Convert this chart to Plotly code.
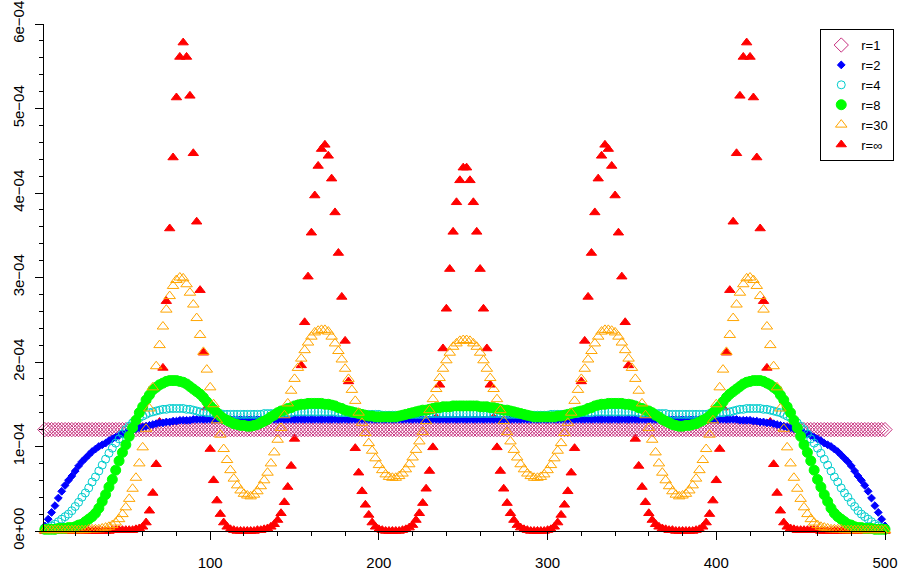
import plotly.graph_objects as go

# positions along the sequence (every second site)
x_pos = list(range(2, 501, 2))

# values in units of 1e-6
r1 = [
    120,120,120,120,120,120,120,120,120,120, 120,120,120,120,120,120,120,120,120,120,
    120,120,120,120,120,120,120,120,120,120, 120,120,120,120,120,120,120,120,120,120,
    120,120,120,120,120,120,120,120,120,120, 120,120,120,120,120,120,120,120,120,120,
    120,120,120,120,120,120,120,120,120,120, 120,120,120,120,120,120,120,120,120,120,
    120,120,120,120,120,120,120,120,120,120, 120,120,120,120,120,120,120,120,120,120,
    120,120,120,120,120,120,120,120,120,120, 120,120,120,120,120,120,120,120,120,120,
    120,120,120,120,120,120,120,120,120,120, 120,120,120,120,120,120,120,120,120,120,
    120,120,120,120,120,120,120,120,120,120, 120,120,120,120,120,120,120,120,120,120,
    120,120,120,120,120,120,120,120,120,120, 120,120,120,120,120,120,120,120,120,120,
    120,120,120,120,120,120,120,120,120,120, 120,120,120,120,120,120,120,120,120,120,
    120,120,120,120,120,120,120,120,120,120, 120,120,120,120,120,120,120,120,120,120,
    120,120,120,120,120,120,120,120,120,120, 120,120,120,120,120,120,120,120,120,120,
    120,120,120,120,120,120,120,120,120,120,
]

r2 = [
    6,14,22,30,39,47,54,60,65,71,
    77,82,86,90,94,97,100,102,104,107,
    109,111,113,115,116,118,119,121,122,123,
    124,125,126,127,128,128,129,129,130,130,
    131,131,131,131,132,132,132,132,132,132,
    132,132,132,132,132,132,132,132,132,132,
    132,132,132,132,132,132,132,132,132,132,
    132,132,132,132,132,132,132,132,132,132,
    132,132,132,132,132,132,132,132,132,132,
    132,132,132,132,132,132,132,132,132,132,
    132,132,132,132,132,132,132,132,132,132,
    132,132,132,132,132,132,132,132,132,132,
    132,132,132,132,132,
    132,132,132,132,132,
    132,132,132,132,132,132,132,132,132,132,
    132,132,132,132,132,132,132,132,132,132,
    132,132,132,132,132,132,132,132,132,132,
    132,132,132,132,132,132,132,132,132,132,
    132,132,132,132,132,132,132,132,132,132,
    132,132,132,132,132,132,132,132,132,132,
    132,132,132,132,132,132,132,132,132,132,
    132,132,132,132,132,132,131,131,131,131,
    130,130,129,129,128,128,127,126,125,124,
    123,122,121,119,118,116,115,113,111,109,
    107,104,102,100,97,94,90,86,82,77,
    71,65,60,54,47,39,30,22,14,6,
]

r4 = [
    3,4,6,8,11,14,17,20,24,29,
    34,40,45,51,58,64,71,78,85,92,
    98,104,109,115,120,124,128,131,134,136,
    138,140,141,142,143,144,144,145,145,145,
    145,145,144,144,143,142,141,141,140,140,
    139,139,139,138,138,138,138,138,138,138,
    138,138,138,138,138,139,139,139,139,140,
    140,140,140,140,141,141,141,141,141,141,
    141,141,141,141,141,141,141,140,140,140,
    140,139,139,139,138,138,138,138,138,138,
    137,137,137,137,137,137,137,138,138,138,
    138,138,138,138,139,139,139,139,139,139,
    139,139,139,139,139,
    139,139,139,139,139,
    139,139,139,139,139,139,138,138,138,138,
    138,138,138,137,137,137,137,137,137,137,
    138,138,138,138,138,138,139,139,139,140,
    140,140,140,141,141,141,141,141,141,141,
    141,141,141,141,141,141,140,140,140,140,
    140,139,139,139,139,138,138,138,138,138,
    138,138,138,138,138,138,138,139,139,139,
    140,140,141,141,142,143,144,144,145,145,
    145,145,145,144,144,143,142,141,140,138,
    136,134,131,128,124,120,115,109,104,98,
    92,85,78,71,64,58,51,45,40,34,
    29,24,20,17,14,11,8,6,4,3,
]

r8 = [
    2,2,2,2,3,3,3,4,4,5,
    7,8,11,14,17,21,27,35,43,52,
    61,72,83,93,102,112,122,131,140,147,
    155,161,167,170,173,175,177,178,178,178,
    177,176,174,171,168,165,162,158,153,148,
    144,140,136,133,131,129,127,126,125,125,
    124,124,125,126,128,130,132,135,137,140,
    142,143,145,146,148,149,150,150,151,151,
    151,151,151,150,150,149,148,146,145,143,
    142,141,140,139,138,137,136,136,135,135,
    135,135,135,135,135,136,137,138,139,140,
    141,142,143,143,144,145,146,146,147,147,
    147,148,148,148,148,
    148,148,148,148,147,
    147,147,146,146,145,144,143,143,142,141,
    140,139,138,137,136,135,135,135,135,135,
    135,135,136,136,137,138,139,140,141,142,
    143,145,146,148,149,150,150,151,151,151,
    151,151,150,150,149,148,146,145,143,142,
    140,137,135,132,130,128,126,125,124,124,
    125,125,126,127,129,131,133,136,140,144,
    148,153,158,162,165,168,171,174,176,177,
    178,178,178,177,175,173,170,167,161,155,
    147,140,131,122,112,102,93,83,72,61,
    52,43,35,27,21,17,14,11,8,7,
    5,4,4,3,3,3,2,2,2,2,
]

r30 = [
    1,1,1,1,1,1,1,1,1,1,
    1,1,1,2,2,2,2,3,4,5,
    7,10,14,20,28,38,50,63,80,99,
    121,145,170,195,220,242,262,278,290,297,
    300,299,292,282,268,252,232,212,191,170,
    150,131,114,97,84,72,62,54,48,44,
    42,41,43,47,53,60,69,80,93,108,
    122,137,151,166,180,193,204,214,223,230,
    235,237,238,238,236,230,222,213,203,192,
    180,167,154,140,128,116,104,95,86,78,
    72,67,64,63,63,65,68,73,79,87,
    96,106,117,130,143,156,168,181,192,202,
    211,218,222,225,226,
    226,225,222,218,211,
    202,192,181,168,156,143,130,117,106,96,
    87,79,73,68,65,63,63,64,67,72,
    78,86,95,104,116,128,140,154,167,180,
    192,203,213,222,230,236,238,238,237,235,
    230,223,214,204,193,180,166,151,137,122,
    108,93,80,69,60,53,47,43,41,42,
    44,48,54,62,72,84,97,114,131,150,
    170,191,212,232,252,268,282,292,299,300,
    297,290,278,262,242,220,195,170,145,121,
    99,80,63,50,38,28,20,14,10,7,
    5,4,3,2,2,2,2,1,1,1,
    1,1,1,1,1,1,1,1,1,1,
]

r_inf = [
    0,0,0,0,0,0,0,0,0,0,
    0,0,0,0,0,0,0,0,0,0,
    1,1,1,1,1,1,1,2,3,5,
    10,24,45,79,129,193,272,358,442,513,
    561,578,561,515,447,366,285,211,146,97,
    60,36,20,10,5,2,1,0,0,0,
    0,0,0,1,1,2,3,5,8,13,
    21,34,52,77,109,150,196,247,301,353,
    397,432,452,457,444,417,377,329,277,225,
    177,135,98,69,47,31,19,10,5,2,
    1,0,0,0,0,0,1,2,4,7,
    13,21,33,50,71,99,134,173,216,263,
    310,354,389,415,430,
    430,415,389,354,310,
    263,216,173,134,99,71,50,33,21,13,
    7,4,2,1,0,0,0,0,0,1,
    2,5,10,19,31,47,69,98,135,177,
    225,277,329,377,417,444,457,452,432,397,
    353,301,247,196,150,109,77,52,34,21,
    13,8,5,3,2,1,1,0,0,0,
    0,0,0,1,2,5,10,20,36,60,
    97,146,211,285,366,447,515,561,578,561,
    513,442,358,272,193,129,79,45,24,10,
    5,3,2,1,1,1,1,1,1,1,
    0,0,0,0,0,0,0,0,0,0,
    0,0,0,0,0,0,0,0,0,0,
]

UNIT = 1e-6

y_tickvals = [0, 1e-4, 2e-4, 3e-4, 4e-4, 5e-4, 6e-4]
y_ticktext = ["0e+00", "1e\u221204", "2e\u221204", "3e\u221204", "4e\u221204", "5e\u221204", "6e\u221204"]
x_tickvals = [100, 200, 300, 400, 500]
x_ticktext = ["100", "200", "300", "400", "500"]

# (name, values, symbol, color, size, legend rank) in drawing order
series = [
    ("r=\u221e", r_inf, "triangle-up", "#FF0000", 9, 6),
    ("r=1", r1, "diamond-open", "#C8307F", 11, 1),
    ("r=2", r2, "diamond", "#0000FF", 6, 2),
    ("r=4", r4, "circle-open", "#00CDCD", 8, 3),
    ("r=8", r8, "circle", "#00FF00", 10, 4),
    ("r=30", r30, "triangle-up-open", "#FFA500", 10, 5),
]

fig = go.Figure()
for name, vals, sym, col, size, rank in series:
    fig.add_trace(go.Scatter(
        x=x_pos,
        y=[v * UNIT for v in vals],
        mode="markers",
        name=name,
        legendrank=rank,
        cliponaxis=False,
        marker=dict(symbol=sym, color=col, size=size,
                    line=dict(width=1, color=col)),
    ))

font = "Liberation Sans, Arial, sans-serif"
fig.update_layout(
    width=900, height=577,
    margin=dict(l=44, r=15, t=24, b=46, autoexpand=False),
    paper_bgcolor="white", plot_bgcolor="white",
    font=dict(family=font, size=15, color="black"),
    showlegend=True,
    legend=dict(x=1.011, y=0.99, xanchor="right", yanchor="top",
                bgcolor="white", bordercolor="black", borderwidth=1,
                font=dict(size=13), itemwidth=30, tracegroupgap=0),
    xaxis=dict(range=[1.5, 500], showgrid=False, zeroline=False, automargin=False,
               showline=True, linecolor="black", linewidth=1,
               tickmode="array", tickvals=x_tickvals, ticktext=x_ticktext,
               ticks="outside", ticklen=8, tickcolor="black", tickwidth=1,
               ticklabelstandoff=10, ticklabeloverflow="allow",
               minor=dict(dtick=20, tick0=0, ticks="outside", ticklen=4,
                          tickcolor="black", tickwidth=1, showgrid=False)),
    yaxis=dict(range=[0, 6e-4], showgrid=False, zeroline=False, automargin=False,
               showline=True, linecolor="black", linewidth=1,
               tickmode="array", tickvals=y_tickvals, ticktext=y_ticktext,
               tickangle=-90,
               ticks="outside", ticklen=8, tickcolor="black", tickwidth=1,
               ticklabelstandoff=5, ticklabeloverflow="allow",
               minor=dict(dtick=2e-5, tick0=0, ticks="outside", ticklen=4,
                          tickcolor="black", tickwidth=1, showgrid=False)),
)

# remove the browser's default page margin so the 900x577 figure fills the window
fig.write_html(
    "out.html",
    config={"displayModeBar": False},
    post_script="document.body.style.margin='0';document.body.style.overflow='hidden';",
)
